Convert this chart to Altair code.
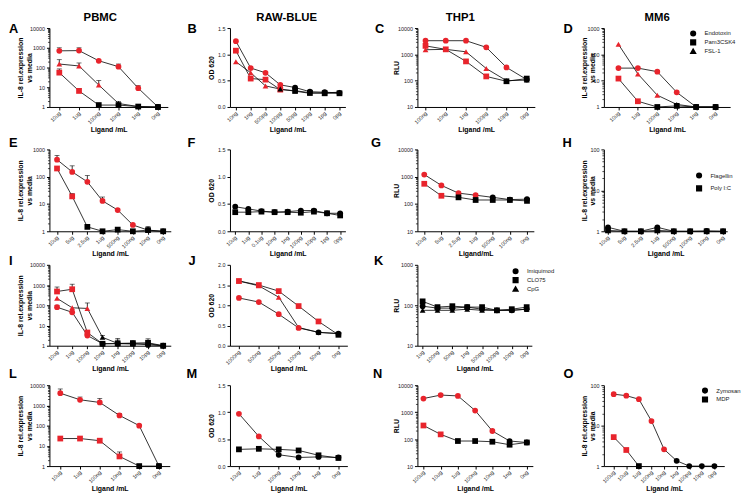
import altair as alt
import pandas as pd

RED = "#e8242c"
FONT = "Liberation Sans"
SHAPES = ["circle", "square", "triangle-up"]
IL8 = ["IL-8 rel.expression", "vs media"]

TLR24 = ["Endotoxin", "Pam3CSK4", "FSL-1"]
TLR53 = ["Flagellin", "Poly I:C"]
TLR789 = ["Imiquimod", "CLO75", "CpG"]
NLR = ["Zymosan", "MDP"]
COLUMN_TITLES = ["PBMC", "RAW-BLUE", "THP1", "MM6"]

# ---------- Row 1 : TLR2/4 ligands ----------
A_labels = ["10ug", "1ug", "100ng", "10ng", "1ng", "0ng"]
A_endo = [700, 720, 220, 110, 9, 1]
A_endo_col = "rrrrrk"
A_endo_err = [1000, 1000, None, 150, 12, None]
A_pam = [55, 6.5, 1.25, 1.25, 1.05, 1]
A_pam_col = "rrkkkk"
A_pam_err = [85, 8.5, None, None, None, None]
A_fsl = [150, 120, 13, 1.5, 1.05, 1]
A_fsl_col = "rrrkkk"
A_fsl_err = [250, 170, 22, 1.9, None, None]

B_labels = ["10ng", "1ng", "500pg", "100pg", "50pg", "10pg", "1pg", "0pg"]
B_endo = [1.25, 0.74, 0.65, 0.42, 0.37, 0.29, 0.28, 0.27]
B_endo_col = "rrrrkkkk"
B_pam = [1.07, 0.54, 0.52, 0.33, 0.31, 0.27, 0.26, 0.26]
B_pam_col = "rrrrkkkk"
B_fsl = [0.86, 0.65, 0.40, 0.34, 0.30, 0.26, 0.27, 0.28]
B_fsl_col = "rrrkkkkk"

C_labels = ["100ng", "10ng", "1ng", "100pg", "10pg", "0pg"]
C_endo = [3300, 3300, 3300, 1850, 320, 110]
C_endo_col = "rrrrrk"
C_pam = [2100, 1550, 540, 145, 95, 120]
C_pam_col = "rrrrkk"
C_fsl = [1500, 1550, 1250, 290, 100, 105]
C_fsl_col = "rrrrkk"

D_labels = ["10ug", "1ug", "100ng", "10ng", "1ng", "0ng"]
D_endo = [30, 30, 22, 3.6, 1, 1]
D_endo_col = "rrrrkk"
D_pam = [12, 1.65, 1.0, 1.1, 1, 1]
D_pam_col = "rrkkkk"
D_fsl = [240, 18, 2.8, 1.25, 1, 1]
D_fsl_col = "rrrkkk"

# ---------- Row 2 : TLR5/3 ligands ----------
E_labels = ["10ug", "5ug", "2.5ug", "1ug", "500ng", "100ng", "10ng", "0ng"]
E_flag = [420, 150, 65, 13, 6, 1.7, 1.1, 1.0]
E_flag_col = "rrrrrrkk"
E_flag_err = [600, 250, 110, 18, None, None, 1.5, None]
E_poly = [200, 19, 1.45, 1.0, 1.15, 1.0, 1.1, 1.0]
E_poly_col = "rrkkkkkk"
E_poly_err = [None, 24, None, None, None, None, None, None]

F_labels = ["10ug", "1ug", "0.1ug", "10ng", "1ng", "100pg", "10pg", "1pg", "0pg"]
F_flag = [0.45, 0.41, 0.37, 0.35, 0.36, 0.38, 0.38, 0.33, 0.33]
F_flag_col = "kkkkkkkkk"
F_poly = [0.35, 0.35, 0.36, 0.35, 0.35, 0.34, 0.36, 0.33, 0.29]
F_poly_col = "kkkkkkkkk"

G_labels = ["10ug", "5ug", "2.5ug", "1ug", "500ng", "100ng", "0ng"]
G_flag = [1200, 480, 250, 210, 175, 145, 150]
G_flag_col = "rrrrkkk"
G_poly = [550, 200, 175, 140, 140, 140, 130]
G_poly_col = "rrkkkkk"

H_labels = ["10ug", "5ug", "2.5ug", "1ug", "500ng", "100ng", "10ng", "0ng"]
H_flag = [1.25, 1.0, 1.0, 1.25, 1.0, 1.0, 1.02, 1.0]
H_flag_col = "kkkkkkkk"
H_poly = [1.05, 1.0, 1.0, 1.05, 1.0, 1.0, 1.0, 1.0]
H_poly_col = "kkkkkkkk"

# ---------- Row 3 : TLR7/8/9 ligands ----------
I_labels = ["10ug", "1ug", "100ng", "10ng", "1ng", "100pg", "10pg", "0pg"]
I_imq = [80, 45, 3.2, 1.25, 1.25, 1.3, 1.1, 1.0]
I_imq_col = "rrrkkkkk"
I_imq_err = [100, None, 4, None, None, None, None, None]
I_clo = [480, 620, 4.5, 1.25, 1.3, 1.35, 1.4, 1.0]
I_clo_col = "rrrkkkkk"
I_clo_err = [800, 1100, 5.5, None, 1.9, None, None, None]
I_cpg = [220, 75, 70, 2.6, 1.3, 1.2, 1.25, 1.0]
I_cpg_col = "rrrkkkkk"
I_cpg_err = [None, None, 130, 3.2, 2.3, None, 2.2, None]

J_labels = ["1000ng", "500ng", "250ng", "100ng", "50ng", "0ng"]
J_imq = [1.18, 1.08, 0.78, 0.44, 0.33, 0.30]
J_imq_col = "rrrrkk"
J_clo = [1.60, 1.50, 1.35, 0.98, 0.60, 0.27]
J_clo_col = "rrrrrk"
J_cpg = [1.60, 1.48, 1.20, 0.45, 0.33, 0.30]
J_cpg_col = "rrrrkk"

K_labels = ["1ug", "100ng", "50ng", "1ng", "500pg", "100pg", "10pg", "0pg"]
K_imq = [95, 85, 85, 90, 80, 75, 75, 80]
K_imq_col = "kkkkkkkk"
K_clo = [125, 90, 95, 90, 90, 75, 80, 90]
K_clo_col = "kkkkkkkk"
K_cpg = [75, 75, 75, 80, 75, 75, 75, 80]
K_cpg_col = "kkkkkkkk"

# ---------- Row 4 : Zymosan / MDP ----------
L_labels = ["10ug", "1ug", "100ng", "10ng", "1ng", "0ng"]
L_zym = [4000, 1900, 1400, 320, 100, 1]
L_zym_col = "rrrrrk"
L_zym_err = [6500, 2600, 2200, 400, None, None]
L_mdp = [23, 23, 18, 3, 1, 1]
L_mdp_col = "rrrrkk"
L_mdp_err = [None, None, None, 5, None, None]

M_labels = ["10ug", "1ug", "100ng", "10ng", "1ng", "0ng"]
M_zym = [0.97, 0.55, 0.21, 0.16, 0.17, 0.16]
M_zym_col = "rrkkkk"
M_mdp = [0.31, 0.32, 0.31, 0.29, 0.20, 0.15]
M_mdp_col = "kkkkkk"

N_labels = ["100ug", "10ug", "1ug", "100ng", "10ng", "1ng", "0ng"]
N_zym = [3200, 4300, 4000, 1150, 200, 85, 75]
N_zym_col = "rrrrrkk"
N_mdp = [320, 150, 85, 85, 80, 62, 75]
N_mdp_col = "rrkkkkk"

O_labels = ["100ug", "10ug", "1ug", "100ng", "10ng", "1ng", "100pg", "10pg", "0pg"]
O_zym = [60, 55, 45, 13, 2.6, 1.35, 1, 1, 1]
O_zym_col = "rrrrrkkkk"
O_mdp = [5.2, 2.5, 1, None, None, None, None, None, None]
O_mdp_col = "rrkkkkkkk"


def minor_ticks(lo, hi):
    out = []
    d = lo
    while d < hi:
        out += [k * d for k in range(2, 10)]
        d *= 10
    return out


def panel(labels, names, series, ylog, ydom, yvals, yfmt, ytitle, ytitle_x,
          width, height, pad, letter, ldx, ldy, xtitle="Ligand /mL", legend=None):
    rows = []
    for name, (vals, cols, errs) in zip(names, series):
        for i, lab in enumerate(labels):
            v = vals[i]
            if v is None:
                continue
            e = errs[i] if errs else None
            rows.append({"x": lab, "i": i, "s": name, "v": v, "c": cols[i], "e": e})
    df = pd.DataFrame(rows)
    df["e"] = df["e"].astype(float)

    if ylog:
        yscale = alt.Scale(type="log", domain=ydom, nice=False)
    else:
        yscale = alt.Scale(domain=ydom, nice=False)
    yaxis = alt.Axis(values=yvals, format=yfmt, title=ytitle, titleX=ytitle_x,
                     titleAngle=270, titleBaseline="top", titleAlign="center",
                     titleLineHeight=8.5, titleColor="black", orient="left")
    xaxis = alt.Axis(labelAngle=315, labelAlign="right", labelBaseline="middle",
                     title=xtitle, titleY=23, titleBaseline="middle", titleColor="black")
    X = alt.X("x:N", sort=labels, scale=alt.Scale(type="point", padding=pad), axis=xaxis)
    Y = alt.Y("v:Q", scale=yscale, axis=yaxis)
    if ylog:
        Yn = alt.Y("v:Q", scale=yscale, axis=None)
        YE = alt.Y("e:Q", scale=yscale, axis=None)
    else:
        Yn = Y
        YE = alt.Y("e:Q", scale=yscale, axis=yaxis)

    base = alt.Chart(df)
    line = base.mark_line(color="black", strokeWidth=0.8).encode(
        x=X, y=Y, detail="s:N", order="i:Q")
    errb = base.transform_filter("isValid(datum.e)").mark_rule(
        color="black", strokeWidth=0.8).encode(x=X, y=Yn, y2="e:Q")
    cap = base.transform_filter("isValid(datum.e)").mark_tick(
        color="black", thickness=0.8, size=5, orient="horizontal").encode(x=X, y=YE)
    if legend is not None:
        lg = alt.Legend(orient="none", legendX=legend[0], legendY=legend[1], title=None,
                        labelFontSize=6, labelFont=FONT, labelColor="#222",
                        symbolSize=22, symbolFillColor="black", symbolStrokeColor="black",
                        symbolOpacity=1, rowPadding=legend[2], labelOffset=8)
    else:
        lg = None
    shape = alt.Shape("s:N", scale=alt.Scale(domain=names, range=SHAPES[:len(names)]),
                      legend=lg)
    pts = base.mark_point(filled=True, size=34, opacity=1, strokeWidth=0).encode(
        x=X, y=Yn, shape=shape,
        fill=alt.Fill("c:N", scale=alt.Scale(domain=["r", "k"], range=[RED, "#000000"]),
                      legend=None))
    layers = [line, errb, cap, pts]
    if ylog:
        minor = base.mark_point(opacity=0, size=0).encode(
            x=X, y=alt.Y("v:Q", scale=yscale,
                         axis=alt.Axis(values=minor_ticks(ydom[0], ydom[1]), labels=False,
                                       domain=False, tickSize=2, tickWidth=0.7,
                                       title=None, orient="left")))
        layers.append(minor)
    ch = alt.layer(*layers)
    if ylog:
        ch = ch.resolve_axis(y="independent")
    return ch.properties(
        width=width, height=height,
        title=alt.TitleParams(letter, anchor="start", frame="group", fontSize=13,
                              fontWeight="bold", font=FONT, baseline="alphabetic",
                              offset=0, dx=ldx, dy=ldy, color="black"))


LOG4 = [1, 10, 100, 1000, 10000]
LOG3 = [1, 10, 100, 1000]
RLU = [10, 100, 1000, 10000]
OD15 = [0, 0.5, 1.0, 1.5]
OD2 = [0, 0.5, 1.0, 1.5, 2.0]

H1, H2, H3, H4 = 80, 83, 82, 82
D1, D2, D3, D4 = 20, 13, 15, 8

A = panel(A_labels, TLR24, [(A_endo, A_endo_col, A_endo_err), (A_pam, A_pam_col, A_pam_err),
                            (A_fsl, A_fsl_col, A_fsl_err)],
          True, [1, 10000], LOG4, "d", IL8, -33, 120, H1, 0.5, "A", -41, D1)
B = panel(B_labels, TLR24, [(B_endo, B_endo_col, None), (B_pam, B_pam_col, None),
                            (B_fsl, B_fsl_col, None)],
          False, [0, 1.5], OD15, ".1f", "OD 620", -23, 117, H1, 0.4, "B", -43, D1)
C = panel(C_labels, TLR24, [(C_endo, C_endo_col, None), (C_pam, C_pam_col, None),
                            (C_fsl, C_fsl_col, None)],
          True, [10, 10000], RLU, "d", "RLU", -25, 119, H1, 0.4, "C", -43, D1)
D = panel(D_labels, TLR24, [(D_endo, D_endo_col, None), (D_pam, D_pam_col, None),
                            (D_fsl, D_fsl_col, None)],
          True, [1, 1000], LOG3, "d", IL8, -24, 128, H1, 0.75, "D", -41, D1,
          legend=(87, 2, -4.5))

E = panel(E_labels, TLR53, [(E_flag, E_flag_col, E_flag_err), (E_poly, E_poly_col, E_poly_err)],
          True, [1, 1000], LOG3, "d", IL8, -33, 123, H2, 0.5, "E", -41, D2)
F = panel(F_labels, TLR53, [(F_flag, F_flag_col, None), (F_poly, F_poly_col, None)],
          False, [0, 1.5], OD15, ".1f", "OD 620", -23, 117, H2, 0.4, "F", -43, D2)
G = panel(G_labels, TLR53, [(G_flag, G_flag_col, None), (G_poly, G_poly_col, None)],
          True, [10, 10000], RLU, "d", "RLU", -25, 118, H2, 0.4, "G", -47, D2,
          xtitle="Ligand/mL")
Hp = panel(H_labels, TLR53, [(H_flag, H_flag_col, None), (H_poly, H_poly_col, None)],
           True, [1, 100], [1, 10, 100], "d", IL8, -24, 125, H2, 0.25, "H", -42, D2,
           legend=(93, 23, 2))

I = panel(I_labels, TLR789, [(I_imq, I_imq_col, I_imq_err), (I_clo, I_clo_col, I_clo_err),
                             (I_cpg, I_cpg_col, I_cpg_err)],
          True, [1, 10000], LOG4, "d", IL8, -33, 123, H3, 0.5, "I", -41, D3)
J = panel(J_labels, TLR789, [(J_imq, J_imq_col, None), (J_clo, J_clo_col, None),
                             (J_cpg, J_cpg_col, None)],
          False, [0, 2.0], OD2, ".1f", "OD 620", -23, 119, H3, 0.45, "J", -42, D3)
K = panel(K_labels, TLR789, [(K_imq, K_imq_col, None), (K_clo, K_clo_col, None),
                             (K_cpg, K_cpg_col, None)],
          True, [10, 1000], [10, 100, 1000], "d", "RLU", -25, 116, H3, 0.35, "K", -44, D3,
          legend=(96, 3, -3.5))

L = panel(L_labels, NLR, [(L_zym, L_zym_col, L_zym_err), (L_mdp, L_mdp_col, L_mdp_err)],
          True, [1, 10000], LOG4, "d", IL8, -33, 122, H4, 0.55, "L", -41, D4)
M = panel(M_labels, NLR, [(M_zym, M_zym_col, None), (M_mdp, M_mdp_col, None)],
          False, [0, 1.5], OD15, ".1f", "OD 620", -23, 119, H4, 0.45, "M", -44, D4)
N = panel(N_labels, NLR, [(N_zym, N_zym_col, None), (N_mdp, N_mdp_col, None)],
          True, [10, 10000], RLU, "d", "RLU", -25, 117, H4, 0.35, "N", -45, D4)
O = panel(O_labels, NLR, [(O_zym, O_zym_col, None), (O_mdp, O_mdp_col, None)],
          True, [1, 100], [1, 10, 100], "d", IL8, -24, 122, H4, 0.78, "O", -41, D4,
          legend=(99, 2, -4))

SPACER_DF = pd.DataFrame({"a": [0]})


def spacer(w, h, title=None):
    ch = alt.Chart(SPACER_DF).mark_point(opacity=0, size=0).encode(
        x=alt.X("a:Q", axis=None, scale=alt.Scale(domain=[0, 1])),
        y=alt.Y("a:Q", axis=None, scale=alt.Scale(domain=[0, 1])))
    if title is not None:
        return ch.properties(width=w, height=h, title=title)
    return ch.properties(width=w, height=h)


def coltitle(text, dx):
    return alt.TitleParams(text, anchor="middle", frame="group", fontSize=11.5,
                           fontWeight="bold", font=FONT, baseline="alphabetic",
                           offset=7.5, dx=dx, dy=13, color="black")


# grid geometry: data columns alternate with gap columns; data rows with gap rows
COL_W = [123, 60, 119, 71, 119, 70, 128]
ROW_H = [1, H1, 43, H2, 34, H3, 40, H4]
TITLE_DX = [-10, -2, -16, -10]
PANELS = [[A, B, C, D], [E, F, G, Hp], [I, J, K, None], [L, M, N, O]]

cells = []
for r, rh in enumerate(ROW_H):
    for c, cw in enumerate(COL_W):
        if r == 0:
            if c % 2 == 0:
                cells.append(spacer(cw, 1, coltitle(COLUMN_TITLES[c // 2], TITLE_DX[c // 2])))
            else:
                cells.append(spacer(cw, 1))
        elif r % 2 == 1:
            p = PANELS[(r - 1) // 2][c // 2] if c % 2 == 0 else None
            if p is None:
                cells.append(spacer(1 if c % 2 == 0 else cw, 1))
            else:
                cells.append(p)
        else:
            cells.append(spacer(1, rh))

chart = alt.concat(*cells, columns=len(COL_W), spacing=0, bounds="flush").resolve_scale(
    shape="independent", fill="independent"
).resolve_legend(
    shape="independent", fill="independent"
).properties(
    padding=0
).configure(font=FONT).configure_view(
    stroke="transparent"
).configure_axis(
    grid=False, domainColor="black", domainWidth=1, tickColor="black", tickWidth=1,
    tickSize=3, labelFontSize=5.5, labelColor="#222", labelFont=FONT, labelPadding=2,
    titleFontSize=7, titleFontWeight="bold", titleColor="black", titleFont=FONT
)

chart.save("out.html", embed_options={"renderer": "svg", "actions": False})
